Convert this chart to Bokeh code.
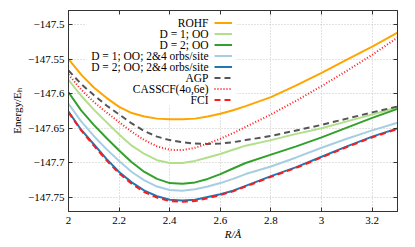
from bokeh.plotting import figure
from bokeh.models import (Range1d, SingleIntervalTicker, CustomJSTickFormatter,
                          LinearAxis, Legend, LegendItem, Label, BoxAnnotation)
from bokeh.embed import file_html
from bokeh.resources import INLINE

# ---------------- data ----------------
R = [2.0, 2.05, 2.1, 2.15, 2.2, 2.25, 2.3, 2.35, 2.4, 2.45, 2.5, 2.55, 2.6,
     2.65, 2.7, 2.8, 2.9, 3.0, 3.1, 3.2, 3.3]

rohf = [-147.550, -147.5725, -147.591, -147.606, -147.619, -147.628, -147.633,
        -147.636, -147.637, -147.637, -147.636, -147.633, -147.629, -147.624,
        -147.618, -147.605, -147.588, -147.570, -147.551, -147.532, -147.512]
d1_oo = [-147.580, -147.603, -147.623, -147.641, -147.659, -147.675, -147.687,
         -147.696, -147.700, -147.700, -147.697, -147.692, -147.687, -147.681,
         -147.675, -147.667, -147.658, -147.650, -147.640, -147.630, -147.620]
d2_oo = [-147.598, -147.624, -147.645, -147.664, -147.682, -147.699, -147.713,
         -147.723, -147.729, -147.730, -147.728, -147.723, -147.716, -147.708,
         -147.700, -147.688, -147.676, -147.663, -147.649, -147.635, -147.622]
d1_24 = [-147.6145, -147.640, -147.661, -147.680, -147.697, -147.713, -147.725,
         -147.734, -147.739, -147.740, -147.738, -147.734, -147.729, -147.723,
         -147.716, -147.705, -147.692, -147.678, -147.665, -147.653, -147.642]
d2_24 = [-147.626, -147.652, -147.673, -147.694, -147.713, -147.728, -147.740,
         -147.748, -147.753, -147.754, -147.753, -147.749, -147.745, -147.740,
         -147.733, -147.719, -147.706, -147.691, -147.676, -147.662, -147.650]
agp = [-147.5665, -147.586, -147.602, -147.617, -147.630, -147.643, -147.654,
       -147.662, -147.667, -147.670, -147.672, -147.6725, -147.672, -147.670,
       -147.667, -147.661, -147.653, -147.645, -147.636, -147.627, -147.6185]
casscf = [-147.5725, -147.594, -147.612, -147.627, -147.641, -147.655, -147.667,
          -147.676, -147.681, -147.6815, -147.678, -147.672, -147.665, -147.657,
          -147.648, -147.630, -147.610, -147.589, -147.567, -147.544, -147.519]
fci = [-147.627, -147.653, -147.675, -147.696, -147.715, -147.730, -147.742,
       -147.750, -147.755, -147.756, -147.755, -147.751, -147.746, -147.741,
       -147.734, -147.720, -147.707, -147.692, -147.677, -147.663, -147.651]

names = ["ROHF", "D = 1; OO", "D = 2; OO", "D = 1; OO; 2&4 orbs/site",
         "D = 2; OO; 2&4 orbs/site", "AGP", "CASSCF(4o,6e)", "FCI"]
values = [rohf, d1_oo, d2_oo, d1_24, d2_24, agp, casscf, fci]
colors = ["#ffa500", "#b2df8a", "#33a02c", "#a6cee3", "#1f78b4", "#555555",
          "#ff1a1a", "#ff1a1a"]
dashes = ["solid", "solid", "solid", "solid", "solid", "6 4", "1 2", "6 4"]

X_START, X_END = 2.0, 3.3
Y_START, Y_END = -147.77, -147.48

# ---------------- layout (canvas px) ----------------
W, H = 415, 247
FL, FR, FT, FB = 68, 18, 10, 36          # borders around the frame
fw, fh = W - FL - FR, H - FT - FB


def dx(px):   # canvas px -> data x
    return X_START + (px - FL) / fw * (X_END - X_START)


def dy(py):   # canvas px (from top) -> data y
    return Y_END - (py - FT) / fh * (Y_END - Y_START)


p = figure(width=W, height=H, output_backend="svg", toolbar_location=None,
           x_range=Range1d(X_START, X_END), y_range=Range1d(Y_START, Y_END),
           min_border_left=FL, min_border_right=FR, min_border_top=FT,
           min_border_bottom=FB,
           x_axis_label="R/Å", y_axis_label="Energy/Eₕ")
p.background_fill_color = "white"
p.border_fill_color = "white"
p.outline_line_color = "#333333"
p.outline_line_width = 1

xt = SingleIntervalTicker(interval=0.2, num_minor_ticks=0)
yt = SingleIntervalTicker(interval=0.05, num_minor_ticks=0)
xfmt = CustomJSTickFormatter(code="return (Math.round(tick*10)/10).toString().replace('-', '\u2212');")
yfmt = CustomJSTickFormatter(code="""
var s = (Math.round(tick*100)/100).toFixed(2);
if (s.endsWith('0')) { s = s.slice(0, -1); }
return s.replace('-', '\u2212');
""")
nofmt = CustomJSTickFormatter(code="return '';")


def style(ax, ticker, fmt, standoff, size="11px"):
    ax.ticker = ticker
    ax.formatter = fmt
    ax.major_tick_in = 4
    ax.major_tick_out = 0
    ax.minor_tick_line_color = None
    ax.major_tick_line_color = "#333333"
    ax.axis_line_color = "#333333"
    ax.major_label_text_font = "Liberation Serif"
    ax.major_label_text_color = "black"
    ax.major_label_text_font_size = size
    ax.major_label_standoff = standoff
    ax.axis_label_text_font = "Liberation Serif"
    ax.axis_label_text_font_size = "11px"
    ax.axis_label_text_color = "black"


style(p.xaxis[0], xt, xfmt, 5)
style(p.yaxis[0], yt, yfmt, 4)
p.xaxis[0].axis_label_text_font_style = "italic"
p.xaxis[0].axis_label_standoff = 1
p.yaxis[0].axis_label_text_font_style = "normal"
p.yaxis[0].axis_label_standoff = 2
top_ax = LinearAxis()
right_ax = LinearAxis()
style(top_ax, xt, nofmt, 0, "1px")
style(right_ax, yt, nofmt, 0, "1px")
p.add_layout(top_ax, "above")
p.add_layout(right_ax, "right")

p.xgrid.ticker = xt
p.ygrid.ticker = yt
p.grid.grid_line_color = "#c4c4c4"
p.grid.grid_line_dash = "1 2"
p.grid.grid_line_width = 1

# white key background
p.add_layout(BoxAnnotation(left=dx(86), right=dx(236), top=dy(14), bottom=dy(105),
                           fill_color="white", fill_alpha=1.0, line_alpha=0,
                           level="underlay"))

renderers = []
for v, c, d in zip(values, colors, dashes):
    r = p.line(R, v, line_color=c, line_width=2, line_dash=d)
    renderers.append(r)

# key: glyphs via Legend, texts via Labels (text left of the sample)
ROW = 11
key_top = 16.5          # canvas px of first row top
legend = Legend(items=[LegendItem(label=" ", renderers=[r]) for r in renderers],
                location=(214 - FL, fh - (key_top - FT) - ROW * len(renderers)),
                glyph_width=18, glyph_height=ROW, label_width=0, label_height=ROW,
                label_standoff=0, padding=0, spacing=0, margin=0,
                background_fill_alpha=0, border_line_alpha=0,
                label_text_font_size="6px")
p.add_layout(legend)

for i, n in enumerate(names):
    p.add_layout(Label(x=dx(208), y=dy(key_top + ROW * i + ROW / 2), text=n,
                       text_align="right", text_baseline="middle",
                       text_font="Liberation Serif", text_font_size="11.5px",
                       text_color="black"))

open("out.html", "w").write(file_html(p, INLINE))
